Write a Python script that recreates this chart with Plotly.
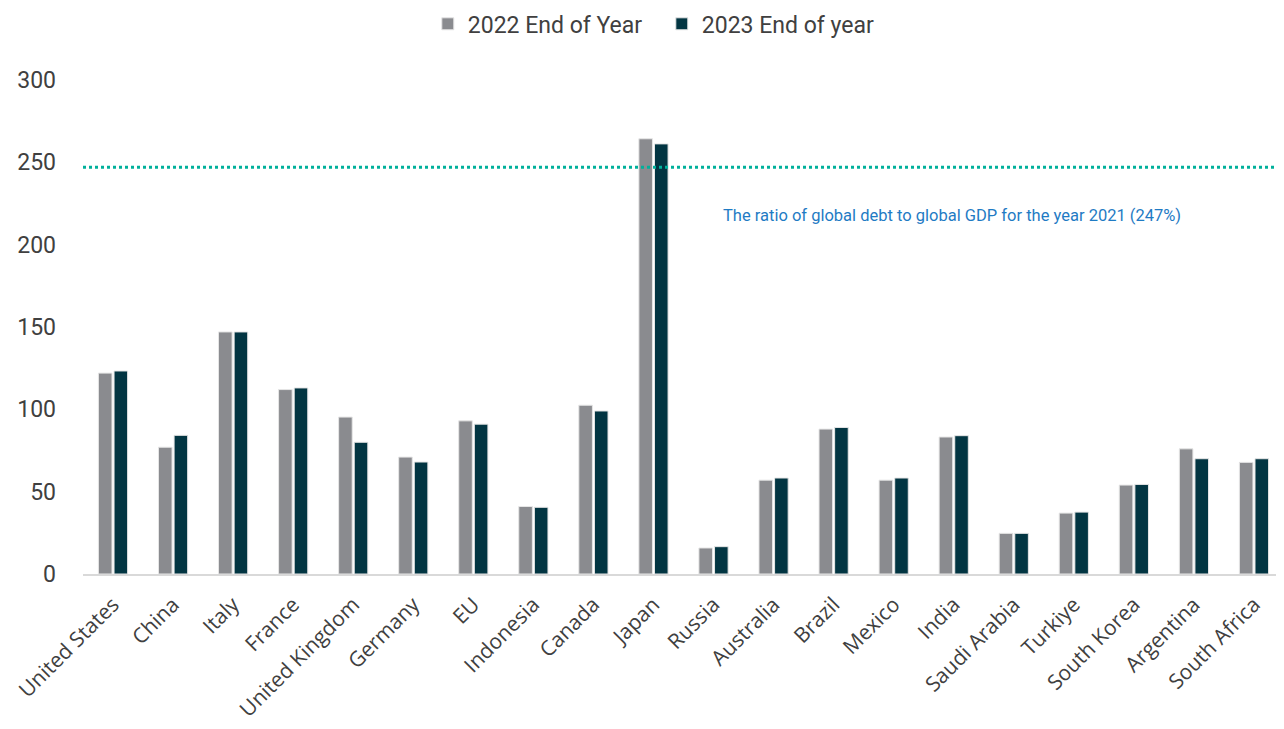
import plotly.graph_objects as go

countries = ["United States", "China", "Italy", "France", "United Kingdom", "Germany", "EU",
             "Indonesia", "Canada", "Japan", "Russia", "Australia", "Brazil", "Mexico", "India",
             "Saudi Arabia", "Turkiye", "South Korea", "Argentina", "South Africa"]
debt_2022 = [122, 77, 147, 112, 95.3, 71, 93, 41, 102.5, 264.3, 15.8, 57, 88, 57, 83.2,
             24.7, 37, 54, 76, 67.8]
debt_2023 = [123.3, 84.2, 147, 113, 80, 68, 91, 40.5, 99, 261.2, 16.6, 58.3, 89, 58.3, 84,
             24.7, 37.6, 54.4, 70, 70]
global_ratio = 247
y_ticks = [0, 50, 100, 150, 200, 250, 300]

FONT = "Roboto"
fig = go.Figure()
fig.add_trace(go.Bar(x=countries, y=debt_2022, name="2022 End of Year",
                     marker=dict(color="#8A8B8F", line=dict(color="#E6E6E6", width=1))))
fig.add_trace(go.Bar(x=countries, y=debt_2023, name="2023 End of year",
                     marker=dict(color="#023542", line=dict(color="#E6E6E6", width=1))))

fig.add_shape(type="line", xref="paper", yref="y", x0=0, x1=1, y0=global_ratio, y1=global_ratio,
              line=dict(color="#00B09B", width=3, dash="dot"))
fig.add_annotation(xref="paper", yref="y", x=0.531, y=217.7, xanchor="left", yanchor="middle",
                   text="The ratio of global debt to global GDP for the year 2021 (247%)",
                   showarrow=False, font=dict(family=FONT, size=16.5, color="#1F7BC4"))

fig.update_layout(
    width=1276, height=721,
    margin=dict(l=75, r=0, t=72, b=155, autoexpand=False),
    paper_bgcolor="white", plot_bgcolor="white",
    barmode="group", bargap=0.48, bargroupgap=0.13,
    font=dict(family=FONT, color="#404040", size=22),
    legend=dict(orientation="h", xref="container", yref="container",
                x=0.329, xanchor="left", y=0.978, yanchor="middle",
                font=dict(size=23, color="#404040"), itemwidth=30, entrywidth=189,
                traceorder="normal"),
    showlegend=True,
)
fig.update_xaxes(tickangle=-45, showline=True, linecolor="#D9D9D9", linewidth=2,
                 ticks="", tickfont=dict(family="Open Sans", size=21, color="#404040"),
                 showgrid=False, ticklabelstandoff=8)
fig.update_yaxes(range=[0, 300], tickvals=y_ticks, showgrid=False, zeroline=False,
                 showline=False, ticks="", tickfont=dict(size=23, color="#404040"),
                 ticklabelstandoff=26)

fig.write_html("out.html")
